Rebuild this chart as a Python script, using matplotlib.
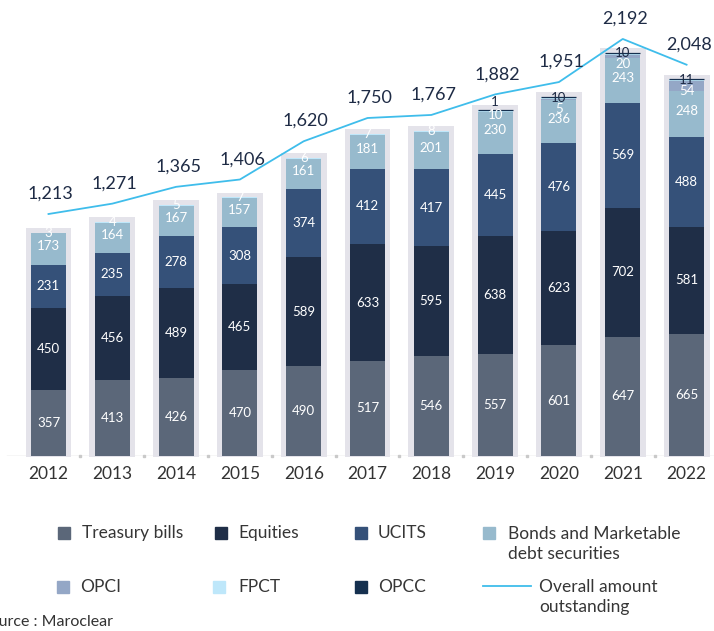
import numpy as np
import matplotlib
matplotlib.use("Agg")
import matplotlib.pyplot as plt
from matplotlib.patches import Rectangle
from matplotlib.lines import Line2D

plt.rcParams['font.family'] = ['Lato', 'DejaVu Sans']

# values (billions)
years = ['2012', '2013', '2014', '2015', '2016', '2017', '2018', '2019', '2020', '2021', '2022']
treasury = [357, 413, 426, 470, 490, 517, 546, 557, 601, 647, 665]
equities = [450, 456, 489, 465, 589, 633, 595, 638, 623, 702, 581]
ucits = [231, 235, 278, 308, 374, 412, 417, 445, 476, 569, 488]
bonds = [173, 164, 167, 157, 161, 181, 201, 230, 236, 243, 248]
opci = [0, 0, 0, 0, 0, 0, 0, 0, 5, 20, 54]
fpct = [3, 4, 5, 7, 6, 7, 8, 10, 10, 10, 11]
opcc = [0, 0, 0, 0, 0, 0, 0, 1, 1, 1, 1]
overall = [1213, 1271, 1365, 1406, 1620, 1750, 1767, 1882, 1951, 2192, 2048]

names = ['Treasury bills', 'Equities', 'UCITS', 'Bonds and Marketable\ndebt securities',
         'OPCI', 'FPCT', 'OPCC']
colors = ['#5B6779', '#1F2E47', '#355179', '#97BACD', '#94A7C6', '#BEE7FA', '#15304F']
line_color = '#3FBDEB'
dark = '#1E2B45'

W, H = 714, 631
fig = plt.figure(figsize=(W / 100, H / 100), dpi=100)


def fx(x):
    return x / W


def fy(y):
    return (H - y) / H


ax = fig.add_axes([0, fy(456), 1, (456 - 15) / H])
x = np.arange(len(years))
ax.set_xlim(-0.76, 10.43)
ax.set_ylim(0, 441 / 0.184)

series = [treasury, equities, ucits, bonds, opci, fpct, opcc]
tot = np.sum(series, axis=0)

# grey background boxes
ax.bar(x, tot + 30, bottom=-5, width=0.72, color='#E4E3EA', zorder=1, clip_on=False)

bottom = np.zeros(len(years))
for vals, col in zip(series, colors):
    v = np.array(vals)
    # the tiny OPCC amounts only show as a thin dark rule
    lw = [0.9 if (col == colors[-1] and val > 0) else 0 for val in v]
    ax.bar(x, v, bottom=bottom, width=0.55, color=col, edgecolor=col, linewidth=lw, zorder=2)
    bottom = bottom + v

# labels inside the big segments
cum = np.zeros(len(years))
for k, vals in enumerate(series[:4]):
    v = np.array(vals)
    for i in range(len(years)):
        dy = 2 if k == 3 else 0
        ax.annotate(str(v[i]), (x[i], cum[i] + v[i] / 2), xytext=(0, dy),
                    textcoords='offset points', ha='center', va='center',
                    color='white', fontsize=9.5, zorder=5)
    cum = cum + v

# labels for the small top segments
for i in range(len(years)):
    top = tot[i]
    if opci[i] > 0:
        ax.annotate(str(opci[i]), (x[i], top), xytext=(0, -8.5), textcoords='offset points',
                    ha='center', va='center', color='white', fontsize=9.5, zorder=5)
        ax.annotate(str(fpct[i]), (x[i], top), xytext=(0, -0.5), textcoords='offset points',
                    ha='center', va='center', color=dark, fontsize=9.5, zorder=5)
    elif opcc[i] > 0:
        ax.annotate(str(opcc[i]), (x[i], top), xytext=(0, 6), textcoords='offset points',
                    ha='center', va='center', color=dark, fontsize=9.5, zorder=5)
        ax.annotate(str(fpct[i]), (x[i], top), xytext=(0, -4), textcoords='offset points',
                    ha='center', va='center', color='white', fontsize=9.5, zorder=5)
    else:
        ax.annotate(str(fpct[i]), (x[i], top), xytext=(0, 0), textcoords='offset points',
                    ha='center', va='center', color='white', fontsize=9.5, zorder=5)

# baseline with small dots between bars
ax.axhline(0, xmin=7 / W, color='#D4D4D4', lw=1, zorder=0)
ax.plot(x[:-1] + 0.5, np.zeros(len(years) - 1), 's', ms=2, color='#C9C9C9',
        mec='#C9C9C9', zorder=0, clip_on=False)

ax.set_xticks(x)
ax.set_xticklabels(years, fontsize=12.5, color='#333333')
ax.tick_params(axis='x', length=0, pad=7)
ax.set_yticks([])
for s in ax.spines.values():
    s.set_visible(False)

# overall amount line on a secondary scale
ax2 = ax.twinx()
ax2.set_ylim(-140.4, 2326)
ax2.plot(x, overall, color=line_color, lw=1.3, zorder=3)
for i, v in enumerate(overall):
    ax2.annotate(f'{v:,}', (x[i], v), xytext=(1.5, 14.5), textcoords='offset points',
                 ha='center', va='center', color=dark, fontsize=13)
ax2.set_yticks([])
for s in ax2.spines.values():
    s.set_visible(False)

# legend, laid out by hand
legend_pos = [(58, 533, 82), (215, 533, 238), (355, 533, 378), (483, 544, 508),
              (57, 587, 80), (213, 587, 238), (355, 587, 378)]
for (sx, sy, tx), name, col in zip(legend_pos, names, colors):
    sq_y = 533 if sy == 544 else sy
    fig.add_artist(Rectangle((fx(sx), fy(sq_y + 6)), 12 / W, 12 / H,
                             transform=fig.transFigure, color=col))
    fig.text(fx(tx), fy(sy), name, ha='left', va='center', fontsize=12.5,
             color='#363636', linespacing=1.25)

fig.add_artist(Line2D([fx(483), fx(531)], [fy(586), fy(586)], transform=fig.transFigure,
                      color=line_color, lw=1.3))
fig.text(fx(539), fy(597), 'Overall amount\noutstanding', ha='left', va='center',
         fontsize=12.5, color='#363636', linespacing=1.25)

fig.text(fx(113), fy(622), 'Source : Maroclear', ha='right', va='center',
         fontsize=11.5, color='#333333')

fig.savefig('out.png', dpi=100)
